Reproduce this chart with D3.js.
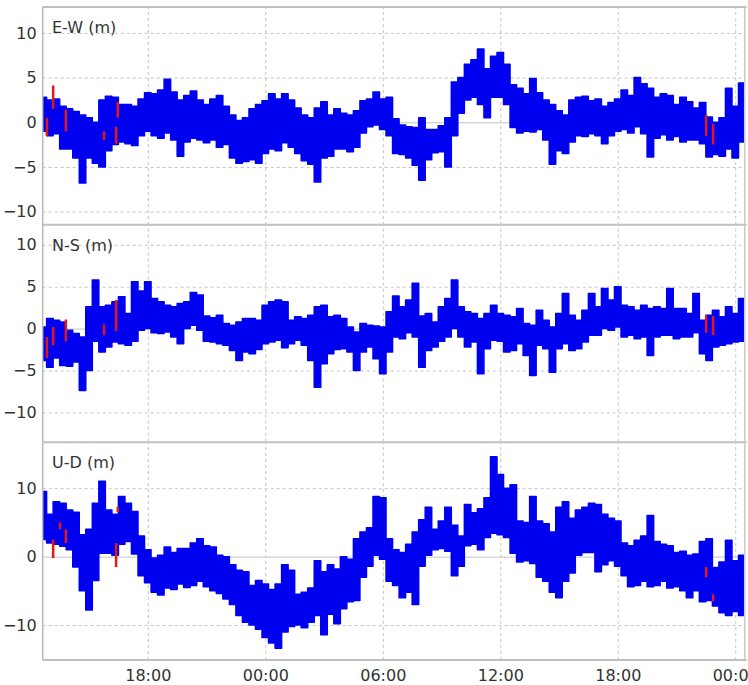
<!DOCTYPE html>
<html>
<head>
<meta charset="utf-8">
<script src="https://d3js.org/d3.v7.min.js"></script>
<style>
  body { margin: 0; background: #fff; }
  text { font-family: "DejaVu Sans", Verdana, sans-serif; }
</style>
</head>
<body>
<svg id="chart" width="748" height="685"></svg>
<script>
// samples every 20 min starting 12:40, envelope (max / min) of each bin in metres
const startTime = "2020-01-01 12:40";
const stepMinutes = 20;

const ewHi = [2.8,2.5,2.6,1.8,1.5,1.2,0.8,0.5,0.0,2.5,2.9,2.8,2.0,2.0,1.8,2.6,3.3,3.2,3.6,4.8,3.4,2.5,3.0,3.5,2.5,2.0,2.6,3.0,1.8,0.8,0.2,0.5,
  1.5,2.0,2.4,3.2,2.6,3.2,2.5,1.6,0.8,0.5,1.6,2.3,0.8,1.5,1.0,0.8,1.3,2.4,2.6,3.4,2.6,2.8,0.4,-0.3,-0.5,-0.6,0.5,-0.8,-0.8,-0.4,0.5,4.5,5.0,6.5,7.0,8.2,6.0,7.4,
  7.8,6.5,4.2,3.8,3.2,4.9,3.3,2.5,2.0,1.3,0.8,2.5,2.8,2.9,2.4,2.6,1.8,2.2,2.6,3.6,3.0,5.0,4.3,3.8,2.8,3.2,3.0,2.0,2.8,2.3,1.6,2.2,0.6,0.0,0.5,3.8,1.8,4.4,2.0];
const ewLo = [-1.0,-1.5,-1.3,-3.0,-3.0,-4.0,-6.8,-4.0,-4.6,-5.0,-3.2,-2.5,-2.2,-2.4,-2.6,-1.5,-1.0,-1.5,-1.8,-1.2,-2.0,-3.8,-2.2,-1.8,-2.0,-2.3,-2.0,-2.8,-2.5,-4.0,-4.6,-4.4,
  -4.2,-4.6,-3.5,-3.0,-3.2,-2.3,-2.8,-3.5,-4.3,-4.7,-6.7,-4.0,-3.8,-3.0,-3.0,-3.3,-2.8,-1.2,-0.5,-0.3,-0.8,-1.5,-3.5,-3.6,-4.0,-4.8,-6.5,-4.2,-3.4,-3.3,-5.0,-1.5,1.0,2.5,2.8,2.0,0.5,2.8,
  2.8,2.0,-0.6,-1.2,-1.0,-1.1,-0.8,-2.0,-4.7,-3.2,-3.5,-2.2,-1.5,-1.6,-1.3,-1.5,-2.4,-1.5,-1.0,-0.8,-1.2,-0.5,-1.3,-3.9,-1.8,-1.4,-2.0,-1.6,-2.2,-2.0,-2.0,-2.4,-3.9,-3.6,-3.8,-3.0,-4.0,-2.2,-1.5];

const nsHi = [0.2,1.2,1.0,0.8,-0.2,-0.6,-1.0,2.6,5.8,2.6,2.8,3.2,3.8,1.8,5.6,4.5,5.6,3.6,3.2,2.8,2.6,3.0,3.2,4.3,4.0,1.5,1.3,1.6,0.6,0.4,0.8,1.2,
  1.2,1.0,2.8,3.2,3.4,3.2,1.0,1.4,1.2,1.6,2.6,2.8,1.4,1.6,1.2,0.2,-0.4,0.6,0.4,0.3,0.2,2.0,3.9,2.6,3.4,5.4,1.5,1.8,0.8,2.6,3.6,5.8,2.6,2.0,1.8,1.2,1.8,2.8,
  1.8,1.6,1.4,2.4,0.6,0.4,2.2,1.0,0.2,1.8,4.2,1.6,1.0,2.2,4.2,2.6,4.8,3.4,5.0,2.8,2.6,2.2,2.8,2.4,2.6,2.4,4.8,2.4,2.4,1.8,4.2,1.0,1.6,2.2,1.4,2.6,1.8,3.6,2.0];
const nsLo = [-3.8,-4.6,-3.5,-4.4,-4.5,-4.0,-7.4,-5.0,-1.5,-2.8,-2.2,-1.6,-1.8,-2.0,-1.5,-0.2,0.0,-0.5,-0.6,-0.4,-1.0,-1.8,0.0,0.4,-0.2,-1.5,-1.6,-1.8,-2.0,-2.6,-3.8,-2.8,
  -3.0,-2.5,-1.8,-1.6,-1.4,-2.3,-1.8,-1.4,-2.0,-3.8,-7.0,-4.2,-3.0,-2.5,-2.4,-2.8,-5.0,-2.8,-2.2,-3.6,-5.4,-2.8,-1.0,-1.2,-0.5,-1.0,-4.6,-2.6,-2.2,-1.5,-1.0,0.0,-1.0,-2.2,-1.6,-5.4,-2.4,-1.4,
  -1.5,-2.8,-2.6,-1.8,-3.2,-5.6,-2.0,-2.4,-5.2,-2.4,-1.8,-2.6,-2.4,-1.6,-0.8,-0.8,0.0,-0.2,0.2,-1.0,-0.8,-1.2,-1.0,-3.2,-1.0,-0.8,-0.8,-1.2,-1.0,-1.0,-0.5,-3.0,-3.8,-2.2,-2.0,-1.8,-1.6,-1.5,-1.2];

const udHi = [9.5,6.2,8.0,7.8,6.8,6.5,3.2,4.0,7.8,11.0,6.8,6.2,8.8,7.8,6.6,3.0,1.0,-0.2,0.2,1.4,0.6,1.2,1.2,2.0,2.6,1.6,1.4,0.2,0.0,-1.2,-2.0,-2.2,
  -4.2,-3.5,-4.0,-4.8,-4.0,-1.2,-2.0,-5.5,-5.2,-4.6,-0.6,-2.2,-1.2,-1.8,0.0,-0.4,2.6,3.6,4.2,8.8,8.6,2.6,1.0,0.6,1.8,3.6,5.4,7.2,4.0,5.2,7.2,4.6,3.0,7.6,6.4,7.0,8.6,14.6,
  12.0,10.0,10.5,5.2,5.0,8.8,5.2,4.8,3.6,7.2,8.0,5.6,6.8,7.2,7.8,7.6,6.2,5.6,5.2,2.0,1.6,2.4,3.0,6.0,2.2,1.8,1.6,0.6,0.8,0.2,0.4,2.2,2.6,-1.6,-0.8,2.4,-0.6,0.2,-0.8];
const udLo = [2.5,2.0,1.8,1.5,1.0,-1.5,-5.0,-7.8,-3.5,0.5,0.5,0.2,1.8,2.2,0.4,-2.8,-3.8,-5.2,-5.6,-4.6,-4.8,-4.0,-4.5,-4.2,-3.6,-4.4,-5.0,-5.4,-6.2,-7.0,-8.6,-9.6,
  -10.0,-10.6,-11.8,-12.6,-13.4,-11.0,-10.2,-10.0,-10.4,-9.6,-8.6,-11.4,-8.4,-9.8,-7.6,-6.6,-6.4,-3.0,-1.4,0.2,-0.4,-3.6,-4.2,-6.0,-5.2,-7.0,-1.4,0.2,1.0,1.2,0.8,-2.8,-1.4,1.6,1.8,1.0,2.8,3.4,
  3.2,2.8,0.5,-0.8,-0.6,-1.0,-3.0,-3.6,-5.2,-6.0,-3.6,-2.4,0.2,0.6,0.6,-2.2,-1.2,-0.6,-1.4,-2.8,-4.4,-4.2,-3.6,-4.4,-4.2,-3.6,-4.6,-4.4,-5.0,-6.0,-5.0,-6.6,-6.4,-7.2,-8.2,-8.6,-8.0,-8.6,-10.5];

// flagged epochs (drawn red)
const ewRedT  = ["2020-01-01 12:51","2020-01-01 13:10","2020-01-01 13:49","2020-01-01 15:46","2020-01-01 16:23","2020-01-01 16:28","2020-01-02 22:31","2020-01-02 22:52"];
const ewRedLo = [-1.5, 1.5, -1.0, -2.0, -2.4, 0.5, -1.5, -2.5];
const ewRedHi = [0.5, 4.1, 1.4, -1.0, -0.5, 2.3, 0.8, -0.2];
const nsRedT  = ["2020-01-01 12:51","2020-01-01 13:10","2020-01-01 13:49","2020-01-01 15:46","2020-01-01 16:23","2020-01-02 22:31","2020-01-02 22:52"];
const nsRedLo = [-3.5, -2.0, -1.5, -0.8, -0.3, -0.5, -0.8];
const nsRedHi = [-1.0, 0.2, 1.1, 0.5, 3.4, 1.6, 1.5];
const udRedT  = ["2020-01-01 13:10","2020-01-01 13:31","2020-01-01 13:49","2020-01-01 16:23","2020-01-01 16:28","2020-01-02 22:31","2020-01-02 22:52"];
const udRedLo = [-0.2, 4.0, 2.0, -1.5, 6.5, -3.0, -6.5];
const udRedHi = [2.5, 5.0, 4.0, 2.0, 7.3, -1.5, -5.5];

const labels = ["E-W (m)", "N-S (m)", "U-D (m)"];
const yDomains = [[-11.5, 12.9], [-13.5, 12.4], [-15.1, 16.7]];
const yTicks = [[-10, -5, 0, 5, 10], [-10, -5, 0, 5, 10], [-10, 0, 10]];
const xStart = "2020-01-01 12:38", xEnd = "2020-01-03 00:29";

const parse = d3.timeParse("%Y-%m-%d %H:%M");
const t0 = parse(startTime);
const times = ewHi.map((d, i) => d3.timeMinute.offset(t0, i * stepMinutes));

const left = 42.7, right = 744.7;
const panelTops = [7, 224.7, 442.3], panelBottoms = [225, 441.7, 660];

const svg = d3.select("#chart");
const x = d3.scaleTime().domain([parse(xStart), parse(xEnd)]).range([left, right]);

const series = [
  { hi: ewHi, lo: ewLo, rt: ewRedT, rlo: ewRedLo, rhi: ewRedHi },
  { hi: nsHi, lo: nsLo, rt: nsRedT, rlo: nsRedLo, rhi: nsRedHi },
  { hi: udHi, lo: udLo, rt: udRedT, rlo: udRedLo, rhi: udRedHi }
];

series.forEach((s, p) => {
  const top = panelTops[p], bottom = panelBottoms[p];
  const y = d3.scaleLinear().domain(yDomains[p]).range([bottom, top]);
  const g = svg.append("g");

  g.append("clipPath").attr("id", "clip" + p)
    .append("rect").attr("x", left).attr("y", top).attr("width", right - left).attr("height", bottom - top);

  // horizontal grid
  g.append("g")
    .attr("transform", "translate(" + left + ",0)")
    .call(d3.axisLeft(y).tickValues(yTicks[p]).tickSize(-(right - left)).tickFormat(""))
    .call(a => a.select(".domain").remove())
    .call(a => a.selectAll("line")
      .attr("stroke", "#c4c4c4")
      .attr("stroke-dasharray", d => d === 0 ? null : "3,3"));

  // vertical grid
  g.append("g")
    .attr("transform", "translate(0," + bottom + ")")
    .call(d3.axisBottom(x).ticks(d3.timeHour.every(6)).tickSize(-(bottom - top)).tickFormat(""))
    .call(a => a.select(".domain").remove())
    .call(a => a.selectAll("line").attr("stroke", "#c4c4c4").attr("stroke-dasharray", "3,3"));

  const data = times.map((t, i) => ({ t: t, hi: s.hi[i], lo: s.lo[i] }));
  const area = d3.area()
    .curve(d3.curveStep)
    .x(d => x(d.t))
    .y0(d => y(d.lo))
    .y1(d => y(d.hi));

  const plot = g.append("g").attr("clip-path", "url(#clip" + p + ")");
  plot.append("path")
    .datum(data)
    .attr("d", area)
    .attr("fill", "#0000f0")
    .attr("stroke", "#0000f0")
    .attr("stroke-width", 1.5)
    .attr("stroke-linejoin", "round");

  plot.selectAll(".red")
    .data(s.rt.map((t, i) => ({ t: parse(t), lo: s.rlo[i], hi: s.rhi[i] })))
    .enter().append("line")
    .attr("class", "red")
    .attr("x1", d => x(d.t)).attr("x2", d => x(d.t))
    .attr("y1", d => y(d.lo)).attr("y2", d => y(d.hi))
    .attr("stroke", "#e01818")
    .attr("stroke-width", 2.5);

  // y tick labels
  g.append("g")
    .attr("transform", "translate(" + left + ",0)")
    .call(d3.axisLeft(y).tickValues(yTicks[p]).tickSize(0).tickPadding(6))
    .call(a => a.select(".domain").remove())
    .call(a => a.selectAll("text").attr("font-size", 16).attr("fill", "#333")
      .style("font-family", "'DejaVu Sans', Verdana, sans-serif"));

  g.append("text")
    .attr("x", 52).attr("y", top + 26)
    .attr("font-size", 16).attr("fill", "#333")
    .text(labels[p]);

  // frame
  g.append("line").attr("x1", left).attr("x2", right + 2).attr("y1", top).attr("y2", top)
    .attr("stroke", "#c0c0c0").attr("stroke-width", 2);
  g.append("line").attr("x1", left).attr("x2", left).attr("y1", top).attr("y2", bottom)
    .attr("stroke", "#b8b8b8").attr("stroke-width", 1.5);
  g.append("line").attr("x1", right).attr("x2", right).attr("y1", top).attr("y2", bottom)
    .attr("stroke", "#c8c8c8").attr("stroke-width", 1.5);
});

svg.append("line").attr("x1", left).attr("x2", right + 2).attr("y1", 660).attr("y2", 660)
  .attr("stroke", "#c0c0c0").attr("stroke-width", 2);

svg.append("g")
  .attr("transform", "translate(0,660)")
  .call(d3.axisBottom(x).ticks(d3.timeHour.every(6)).tickFormat(d3.timeFormat("%H:%M")).tickSize(0).tickPadding(10))
  .call(a => a.select(".domain").remove())
  .call(a => a.selectAll("text").attr("font-size", 16).attr("fill", "#333")
    .style("font-family", "'DejaVu Sans', Verdana, sans-serif"));
</script>
</body>
</html>
